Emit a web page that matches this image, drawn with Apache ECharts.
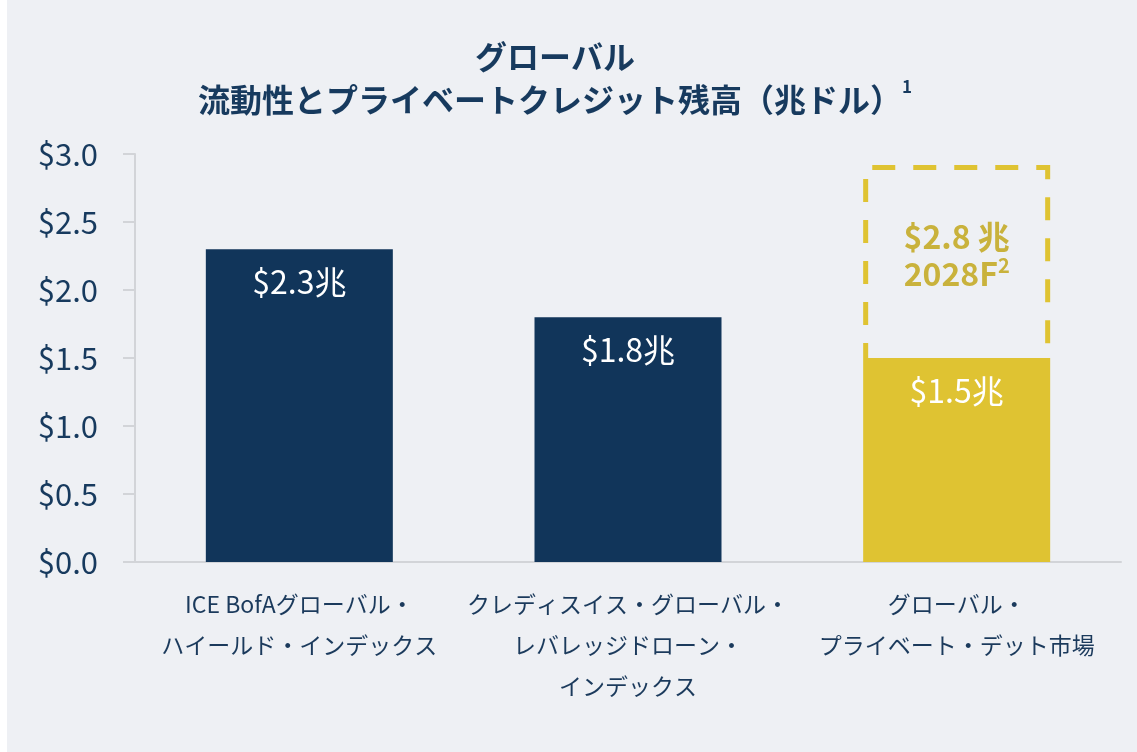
<!DOCTYPE html>
<html><head><meta charset="utf-8">
<script src="https://cdn.jsdelivr.net/npm/echarts@6/dist/echarts.min.js"></script>
<style>
html,body{margin:0;padding:0;background:#ffffff;}
#c{position:absolute;left:7px;top:0;width:1130px;height:752px;}
</style></head>
<body><div id="c"></div>
<script>
const categories = [
  'ICE BofAグローバル・\nハイールド・インデックス',
  'クレディスイス・グローバル・\nレバレッジドローン・\nインデックス',
  'グローバル・\nプライベート・デット市場'
];
const currentValues = [2.3, 1.8, 1.5];
const forecastBoxTop = [null, null, 2.9];
const forecastValues = [null, null, 2.8];
const forecastYear = [null, null, '2028F'];
const forecastNote = '2';
const yTicks = [0, 0.5, 1.0, 1.5, 2.0, 2.5, 3.0];
const titleLine1 = 'グローバル';
const titleLine2 = '流動性とプライベートクレジット残高（兆ドル）';
const titleNote = '1';

const NAVY = '#11355a', GOLD = '#dfc332', GOLD_TEXT = '#c9b23c', TXT = '#173a5e';
const FONT = '"Noto Sans CJK JP", "Noto Sans", sans-serif';
const chart = echarts.init(document.getElementById('c'));

const boxData = [];
forecastBoxTop.forEach((v, i) => { if (v != null) boxData.push([i, currentValues[i], v, forecastValues[i]]); });

chart.setOption({
  backgroundColor: '#eef0f4',
  animation: false,
  textStyle: { fontFamily: FONT },
  title: {
    left: 543, top: 30, textAlign: 'center',
    text: '{t|' + titleLine1 + '}\n{t|' + titleLine2 + '}{s|' + titleNote + '}',
    textStyle: {
      rich: {
        t: { fontFamily: FONT, fontSize: 32, fontWeight: 'bold', color: TXT, lineHeight: 43 },
        s: { fontFamily: FONT, fontSize: 17, fontWeight: 'bold', color: TXT, verticalAlign: 'top', lineHeight: 32, padding: [0, 0, 0, 0] }
      }
    }
  },
  grid: { left: 128, right: 16, top: 154, bottom: 190 },
  xAxis: {
    type: 'category', data: categories,
    axisLine: { show: true, lineStyle: { color: '#d2d4d8', width: 2 } },
    axisTick: { show: false },
    axisLabel: { interval: 0, margin: 22, fontSize: 23, lineHeight: 41, color: '#1b3a5c', fontFamily: FONT }
  },
  yAxis: {
    type: 'value', min: 0, max: 3, interval: 0.5,
    axisLine: { show: true, lineStyle: { color: '#d2d4d8', width: 2 } },
    axisTick: { show: true, length: 12, lineStyle: { color: '#d2d4d8', width: 2 } },
    splitLine: { show: false },
    axisLabel: { margin: 37, fontSize: 31, color: TXT, fontFamily: FONT,
      formatter: v => yTicks.indexOf(v) >= 0 ? '$' + v.toFixed(1) : '' }
  },
  series: [
    {
      type: 'custom', z: 1,
      data: boxData,
      renderItem: function (params, api) {
        const i = api.value(0);
        const base = api.coord([i, api.value(1)]);
        const top = api.coord([i, api.value(2)]);
        const half = 91;
        const cx = base[0];
        return {
          type: 'group',
          children: [
            {
              type: 'polyline',
              shape: { points: [[cx - half, base[1]], [cx - half, top[1]], [cx + half, top[1]], [cx + half, base[1]]] },
              style: { stroke: GOLD, fill: null, lineWidth: 5, lineDash: [23, 18], lineDashOffset: 8, lineJoin: 'miter', lineCap: 'butt' }
            },
            {
              type: 'text',
              x: cx, y: top[1] + 88,
              style: {
                text: '{b|$' + api.value(3).toFixed(1) + ' 兆}\n{b|' + forecastYear[i] + '}{s|' + forecastNote + '}',
                align: 'center', verticalAlign: 'middle',
                rich: {
                  b: { fontFamily: FONT, fontSize: 32, fontWeight: 'bold', fill: GOLD_TEXT, lineHeight: 37 },
                  s: { fontFamily: FONT, fontSize: 20, fontWeight: 'bold', fill: GOLD_TEXT, verticalAlign: 'top', lineHeight: 28 }
                }
              }
            }
          ]
        };
      }
    },
    {
      type: 'bar', z: 3, barWidth: 187,
      data: currentValues.map((v, i) => ({ value: v, itemStyle: { color: i === 2 ? GOLD : NAVY } })),
      label: {
        show: true, position: 'insideTop', distance: 17,
        fontSize: 32, color: '#ffffff', fontFamily: FONT,
        formatter: p => '$' + p.value.toFixed(1) + '兆'
      }
    }
  ]
});
</script></body></html>
